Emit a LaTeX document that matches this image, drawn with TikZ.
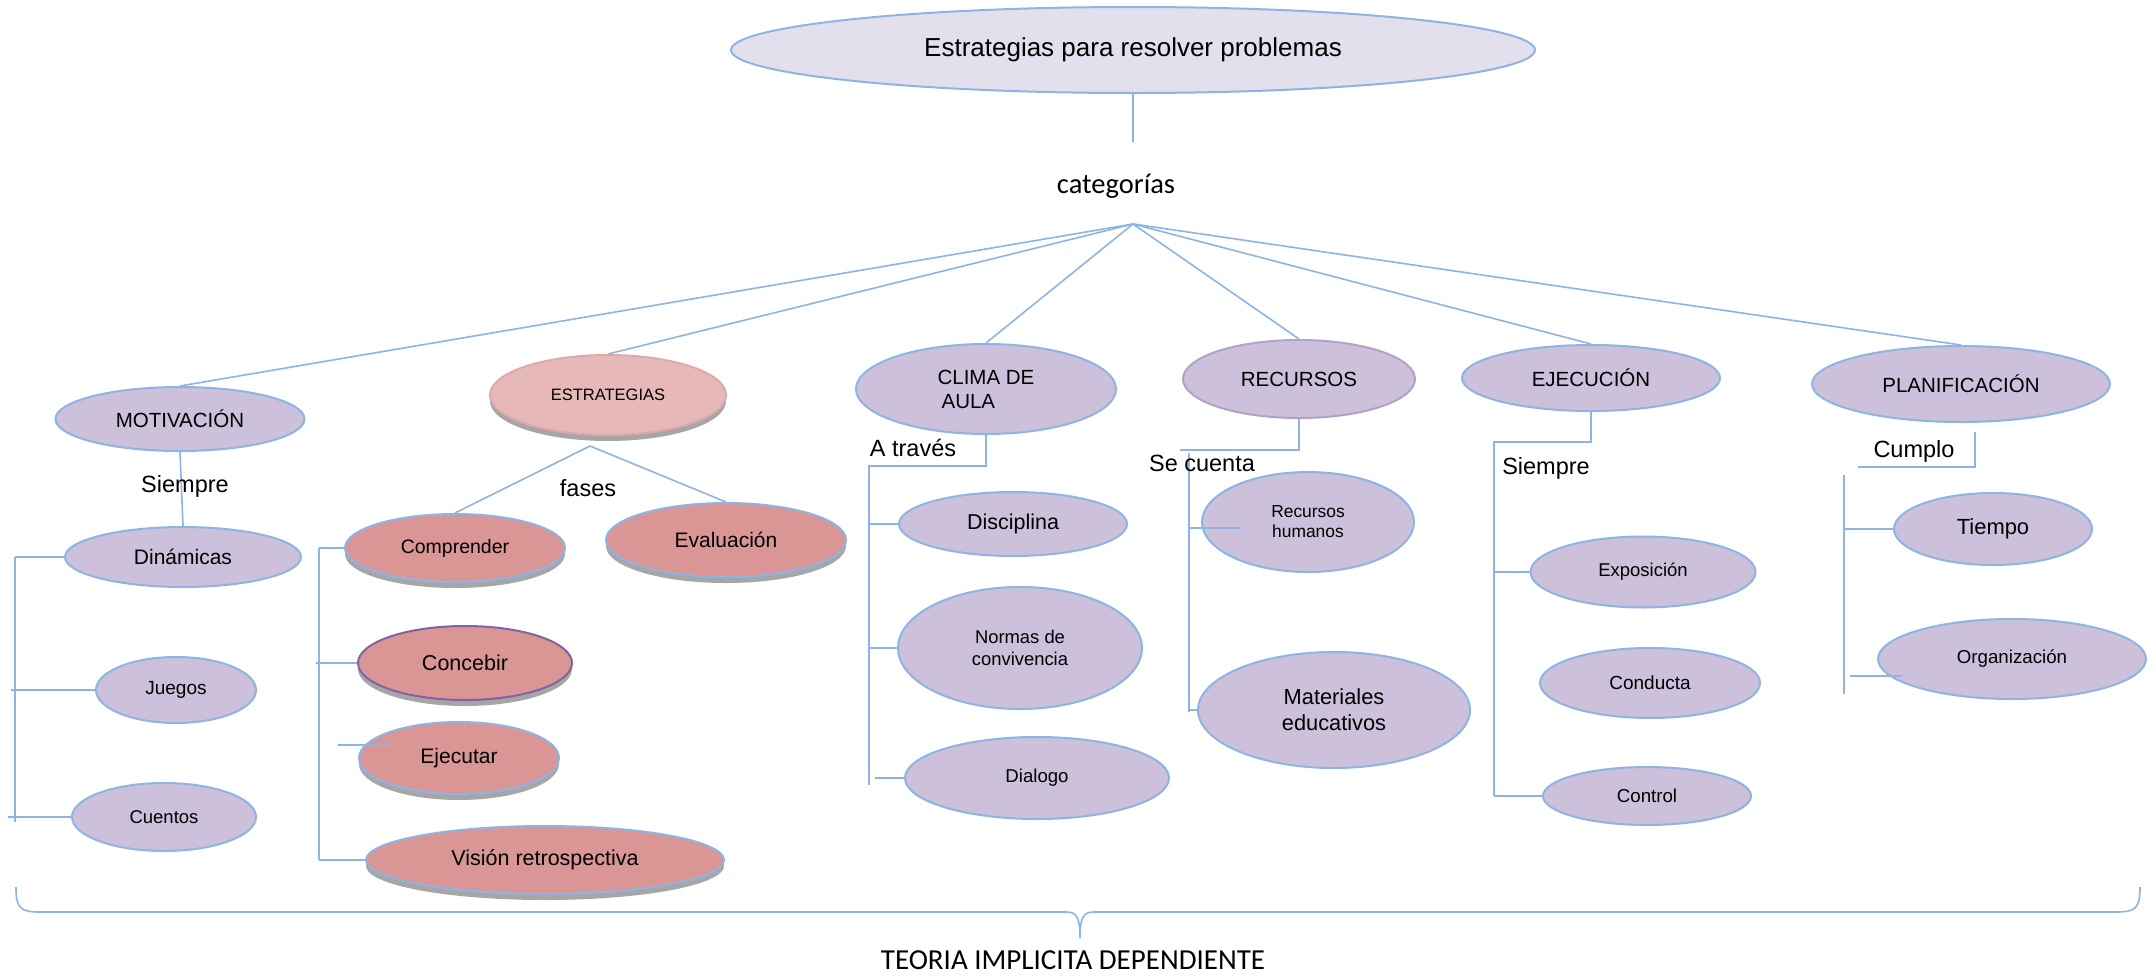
\documentclass[tikz,border=0pt]{standalone}
\usepackage{fontspec}
\setmainfont{Liberation Sans}
\newfontfamily\calibfont{Carlito}
\usetikzlibrary{shapes.geometric}
\definecolor{lb}{HTML}{8EB4E3}
\definecolor{lav}{HTML}{CCC0DA}
\definecolor{toplav}{HTML}{E4DFEC}
\definecolor{estpink}{HTML}{E6B9B8}
\definecolor{estborder}{HTML}{DDAAAA}
\definecolor{phpink}{HTML}{D99694}
\definecolor{shgray}{HTML}{A6A6A6}
\definecolor{conpurp}{HTML}{8064A2}
\definecolor{recpurp}{HTML}{B3A2C7}
\newcommand\fsz[2]{\fontsize{#1}{#2}\selectfont}
\begin{document}
\begin{tikzpicture}[x=1pt,y=-1pt,
  el/.style={ellipse, draw=lb, line width=2pt, fill=lav, inner sep=0pt, align=center},
  ph/.style={el, fill=phpink, preaction={fill=shgray, transform canvas={yshift=-6pt}}},
  ln/.style={draw=lb, line width=1.6pt},
  lbl/.style={inner sep=0pt, font=\fsz{23.5}{28}}]
\useasboundingbox[fill=white] (0,0) rectangle (2156,975);

% top
\node[el, fill=toplav, minimum width=804pt, minimum height=86pt, font=\fsz{26}{30}] (top) at (1133,50) {Estrategias para resolver problemas};
\coordinate (topend) at (1133,142);
\draw[ln] (top.south) -- (topend);
\node[inner sep=0pt, font=\calibfont\fsz{28.5}{32}] (cat) at (1116,186) {categorías};
\coordinate (hub) at (1133,224);

% categories
\node[el, minimum width=249pt, minimum height=64pt, font=\fsz{20.5}{24}] (mot) at (180,419) {MOTIVACIÓN};
\node[el, fill=estpink, draw=estborder, preaction={fill=shgray, transform canvas={yshift=-6pt}}, minimum width=236pt, minimum height=80pt, font=\fsz{16.5}{20}] (est) at (608,395) {ESTRATEGIAS};
\node[el, minimum width=260pt, minimum height=90pt, align=left, font=\fsz{20.5}{24}] (clima) at (986,389) {CLIMA DE\\\hspace{4pt}AULA};
\node[el, draw=recpurp, minimum width=232pt, minimum height=78pt, font=\fsz{20.5}{24}] (rec) at (1299,379) {RECURSOS};
\node[el, minimum width=258pt, minimum height=66pt, font=\fsz{20.5}{24}] (eje) at (1591,378) {EJECUCIÓN};
\node[el, minimum width=298pt, minimum height=76pt, font=\fsz{20.5}{24}] (plan) at (1961,384) {PLANIFICACIÓN};

\draw[ln] (hub) -- (mot.north);
\draw[ln] (hub) -- (est.north);
\draw[ln] (hub) -- (clima.north);
\draw[ln] (hub) -- (rec.north);
\draw[ln] (hub) -- (eje.north);
\draw[ln] (hub) -- (plan.north);

% MOTIVACION subtree
\node[el, minimum width=236pt, minimum height=60pt, font=\fsz{21}{25}] (din) at (183,557) {Dinámicas};
\node[el, minimum width=160pt, minimum height=66pt, font=\fsz{19}{23}] (jue) at (176,690) {Juegos};
\node[el, minimum width=184pt, minimum height=68pt, font=\fsz{18.5}{22}] (cue) at (164,817) {Cuentos};
\draw[ln] (mot.south) -- (din.north);
\node[lbl] (siem1) at (185,486) {Siempre};
\coordinate (mbt) at (15,557);
\coordinate (mbb) at (15,822);
\draw[ln] (mbt) -- (mbb);
\draw[ln] (mbt) -- (din.west);
\coordinate (jt) at (11,690);
\draw[ln] (jt) -- (jue.west);
\coordinate (ct) at (8,817);
\draw[ln] (ct) -- (cue.west);

% ESTRATEGIAS subtree
\coordinate (estb) at (590,446);
\node[ph, minimum width=220pt, minimum height=68pt, font=\fsz{19.5}{23}] (com) at (455,548) {Comprender};
\node[ph, minimum width=240pt, minimum height=74pt, font=\fsz{21}{25}] (eva) at (726,540) {Evaluación};
\node[ph, draw=conpurp, minimum width=214pt, minimum height=74pt, font=\fsz{21.5}{25}] (con) at (465,663) {Concebir};
\node[ph, minimum width=200pt, minimum height=72pt, font=\fsz{21}{25}] (ejc) at (459,758) {Ejecutar};
\node[ph, minimum width=358pt, minimum height=68pt, font=\fsz{21.5}{25}] (vis) at (545,860) {Visión retrospectiva};
\draw[ln] (estb) -- (com.north);
\draw[ln] (estb) -- (eva.north);
\node[lbl] (fases) at (588,488) {fases};
\coordinate (sbt) at (319,548);
\coordinate (sbb) at (319,860);
\draw[ln] (sbt) -- (sbb);
\draw[ln] (sbt) -- (com.west);
\coordinate (cnt) at (316,663);
\draw[ln] (cnt) -- (con.west);
\coordinate (ej1) at (338,745);
\coordinate (ej2) at (390,745);
\draw[ln] (ej1) -- (ej2);
\draw[ln] (sbb) -- (vis.west);

% CLIMA subtree
\node[el, minimum width=228pt, minimum height=64pt, font=\fsz{21.5}{25}] (dis) at (1013,524) {Disciplina};
\node[el, minimum width=244pt, minimum height=122pt, font=\fsz{18.4}{22}] (nor) at (1020,648) {Normas de\\convivencia};
\node[el, minimum width=264pt, minimum height=82pt, font=\fsz{18.6}{22}] (dia) at (1037,778) {Dialogo};
\coordinate (cl1) at (986,466);
\coordinate (clb) at (869,466);
\coordinate (clbb) at (869,785);
\draw[ln] (clima.south) -- (cl1) -- (clb) -- (clbb);
\node[lbl] (atr) at (913,448) {A través};
\draw[ln] (dis.west -| clb) -- (dis.west);
\draw[ln] (nor.west -| clb) -- (nor.west);
\coordinate (dit) at (875,778);
\draw[ln] (dit) -- (dia.west);

% RECURSOS subtree
\node[el, minimum width=212pt, minimum height=100pt, font=\fsz{17.4}{20}] (rhu) at (1308,522) {Recursos\\humanos};
\node[el, minimum width=272pt, minimum height=116pt, font=\fsz{21.8}{26}] (mat) at (1334,710) {Materiales\\educativos};
\coordinate (rc1) at (1299,450);
\coordinate (rc2) at (1180,450);
\draw[ln] (rec.south) -- (rc1) -- (rc2);
\coordinate (rb1) at (1189,453);
\coordinate (rb2) at (1189,712);
\draw[ln] (rb1) -- (rb2);
\node[lbl] (secu) at (1202,463) {Se cuenta};
\coordinate (rh1) at (1189,528);
\coordinate (rh2) at (1240,528);
\draw[ln] (rh1) -- (rh2);
\draw[ln] (mat.west -| rb1) -- (mat.west);

% EJECUCION subtree
\node[el, minimum width=225pt, minimum height=71pt, font=\fsz{18.5}{22}] (exp) at (1643,572) {Exposición};
\node[el, minimum width=220pt, minimum height=70pt, font=\fsz{19}{23}] (cnd) at (1650,683) {Conducta};
\node[el, minimum width=208pt, minimum height=58pt, font=\fsz{18.7}{22}] (ctl) at (1647,796) {Control};
\coordinate (ebt) at (1494,442);
\coordinate (ebb) at (1494,796);
\draw[ln] (eje.south) -- (eje.south |- ebt) -- (ebt) -- (ebb);
\node[lbl] (siem2) at (1546,468) {Siempre};
\draw[ln] (exp.west -| ebt) -- (exp.west);
\draw[ln] (ebb) -- (ctl.west);

% PLANIFICACION subtree
\node[el, minimum width=198pt, minimum height=72pt, font=\fsz{21.9}{26}] (tie) at (1993,529) {Tiempo};
\node[el, minimum width=268pt, minimum height=80pt, font=\fsz{18.7}{22}] (org) at (2012,659) {Organización};
\coordinate (pl1) at (1975,432);
\coordinate (pl2) at (1975,467);
\coordinate (pl3) at (1858,467);
\draw[ln] (pl1) -- (pl2) -- (pl3);
\node[lbl] (cump) at (1914,451) {Cumplo};
\coordinate (pb1) at (1844,475);
\coordinate (pb2) at (1844,694);
\draw[ln] (pb1) -- (pb2);
\draw[ln] (tie.west -| pb1) -- (tie.west);
\coordinate (og1) at (1850,676);
\coordinate (og2) at (1902,676);
\draw[ln] (og1) -- (og2);

% bottom brace
\coordinate (bl) at (16,887);
\coordinate (br) at (2140,887);
\coordinate (bt) at (1080,938);
\draw[ln] (bl) .. controls (16,908) and (20,912) .. (40,912) -- (1066,912) .. controls (1076,912) and (1080,916) .. (bt) .. controls (1080,916) and (1084,912) .. (1094,912) -- (2116,912) .. controls (2136,912) and (2140,908) .. (br);
\node[inner sep=0pt, font=\calibfont\fsz{29}{32}] (teo) at (1073,960) {TEORIA IMPLICITA DEPENDIENTE};
\end{tikzpicture}
\end{document}
